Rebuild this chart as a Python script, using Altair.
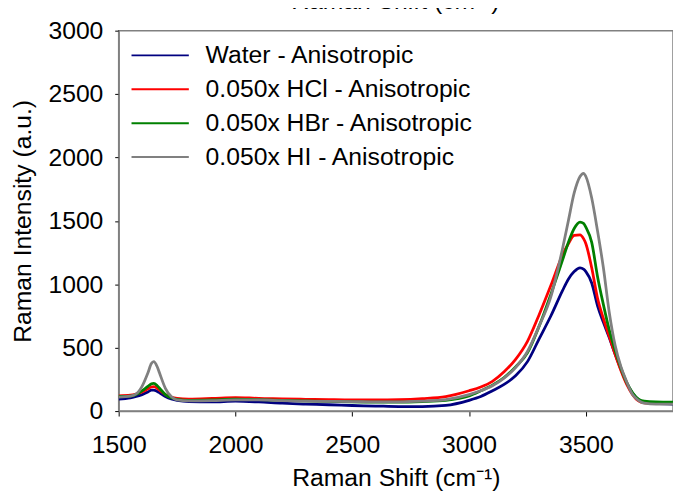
import altair as alt
import pandas as pd

# Raman shift grid (cm-1)
shift = [1500, 1550, 1575, 1600, 1625, 1640, 1650, 1665, 1675, 1700,
         1725, 1750, 1800, 1900, 2000, 2100, 2200, 2300, 2400, 2500,
         2600, 2700, 2800, 2900, 3000, 3050, 3100, 3150, 3200, 3250,
         3300, 3350, 3400, 3425, 3450, 3475, 3490, 3500, 3525, 3550,
         3575, 3600, 3625, 3650, 3675, 3700, 3725, 3750, 3800, 3873]

water = [95, 105, 115, 130, 150, 165, 165, 155, 145, 115,
         95, 85, 75, 72, 78, 72, 62, 55, 50, 44,
         40, 36, 36, 45, 85, 115, 160, 210, 280, 390,
         570, 750, 950, 1040, 1100, 1130, 1120, 1100, 1010, 830,
         700, 580, 450, 330, 220, 140, 90, 70, 60, 55]

hcl = [120, 125, 135, 150, 175, 190, 192, 180, 165, 130,
       110, 100, 95, 100, 107, 100, 97, 93, 90, 88,
       88, 90, 98, 114, 160, 190, 235, 310, 410, 550,
       760, 990, 1230, 1320, 1385, 1390, 1360, 1320, 1130, 890,
       730, 590, 450, 320, 210, 130, 80, 65, 60, 58]

hbr = [115, 118, 130, 160, 195, 215, 218, 200, 180, 130,
       105, 92, 85, 88, 95, 90, 85, 80, 76, 72,
       70, 70, 75, 85, 120, 160, 205, 265, 350, 460,
       670, 920, 1190, 1330, 1440, 1490, 1480, 1450, 1330, 1060,
       840, 640, 480, 340, 225, 145, 95, 78, 72, 70]

hi = [110, 118, 135, 195, 300, 375, 390, 350, 300, 180,
      115, 88, 80, 82, 88, 88, 82, 78, 76, 75,
      72, 72, 78, 90, 130, 160, 200, 260, 345, 470,
      670, 900, 1280, 1500, 1720, 1850, 1875, 1850, 1680, 1420,
      1130, 780, 520, 350, 230, 130, 85, 62, 55, 55]

series_names = ["Water - Anisotropic", "0.050x HCl - Anisotropic",
                "0.050x HBr - Anisotropic", "0.050x HI - Anisotropic"]
series_colors = ["#000080", "#FF0000", "#008000", "#808080"]
series_values = [water, hcl, hbr, hi]

y_ticks = [0, 500, 1000, 1500, 2000, 2500, 3000]
x_ticks = [1500, 2000, 2500, 3000, 3500]

rows = []
for name, vals in zip(series_names, series_values):
    for xv, yv in zip(shift, vals):
        rows.append({"series": name, "shift": xv, "intensity": yv})
df = pd.DataFrame(rows)

FONT = "Liberation Sans"
color_scale = alt.Scale(domain=series_names, range=series_colors)

x_enc = alt.X("shift:Q",
              scale=alt.Scale(domain=[1500, 3873], nice=False, zero=False),
              axis=alt.Axis(values=x_ticks, format="d", labelFlush=False,
                            title="Raman Shift (cm⁻¹)",
                            tickSize=5, labelPadding=17, titlePadding=8,
                            labelFontSize=25, titleFontSize=25,
                            titleFontWeight="normal", domainColor="#808080",
                            domainWidth=1.5, tickColor="#000000", grid=False))
y_enc = alt.Y("intensity:Q",
              scale=alt.Scale(domain=[0, 3000], nice=False),
              axis=alt.Axis(values=y_ticks, format="d", labelFlush=False,
                            title="Raman Intensity (a.u.)",
                            tickSize=4, labelPadding=12, titlePadding=13,
                            labelFontSize=25, titleFontSize=25,
                            titleFontWeight="normal", domainColor="#808080",
                            domainWidth=1.5, tickColor="#000000", grid=False))

line_layers = []
for name in series_names:
    line_layers.append(
        alt.Chart(df).transform_filter(alt.datum.series == name)
        .mark_line(strokeWidth=2.8, clip=True, interpolate="monotone")
        .encode(x=x_enc, y=y_enc,
                color=alt.Color("series:N", scale=color_scale, legend=None))
    )
lines = alt.layer(*line_layers)

leg_df = pd.DataFrame({"series": series_names, "idx": list(range(len(series_names)))})
leg_base = alt.Chart(leg_df).transform_calculate(ly="25 + 34.3 * datum.idx")
leg_rule = leg_base.mark_rule(strokeWidth=2).encode(
    x=alt.value(13), x2=alt.value(71),
    y=alt.Y("ly:Q", scale=None, axis=None),
    color=alt.Color("series:N", scale=color_scale, legend=None))
leg_text = leg_base.mark_text(align="left", baseline="middle", fontSize=25,
                              font=FONT, color="#000000").encode(
    x=alt.value(88), y=alt.Y("ly:Q", scale=None, axis=None),
    text="series:N")
legend = alt.layer(leg_rule, leg_text)

top_title = alt.Chart(pd.DataFrame({"t": ["Raman Shift (cm⁻¹)"]})).mark_text(
    align="center", baseline="bottom", fontSize=25, font=FONT, color="#000000"
).encode(x=alt.value(280), y=alt.value(-17), text="t:N")

chart = alt.layer(lines, legend, top_title).resolve_scale(
    y="independent").properties(
    width=561, height=385,
    autosize=alt.AutoSizeParams(type="none"),
    padding={"left": 112, "top": 20, "right": 0, "bottom": 83},
).configure_axis(labelFont=FONT, titleFont=FONT, labelColor="#000000",
                 titleColor="#000000").configure_view(
    stroke="#808080", strokeWidth=1.5)

chart.save("out.html", embed_options={"renderer": "svg", "actions": False})
